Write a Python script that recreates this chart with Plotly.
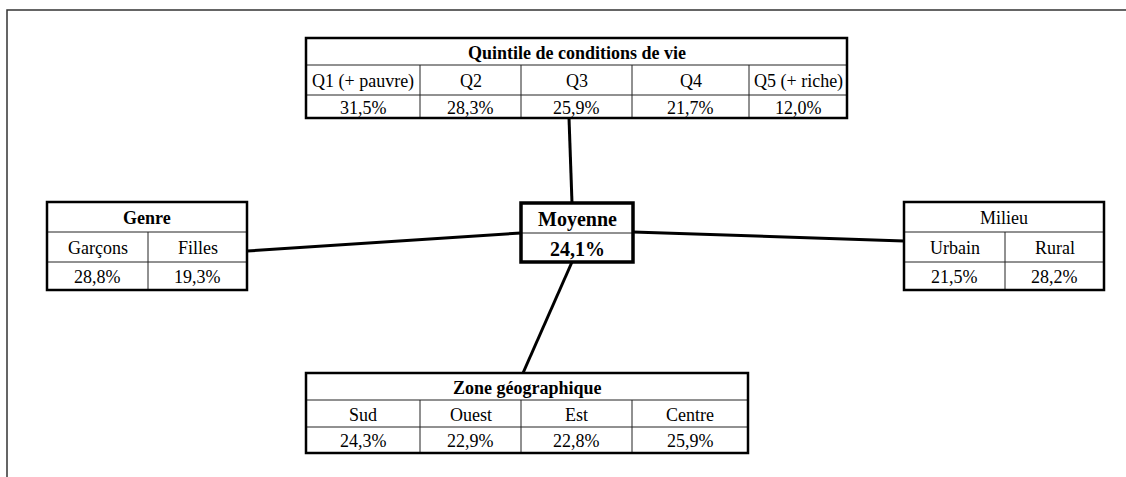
import plotly.graph_objects as go

# ---- data ----
quintile_title = "Quintile de conditions de vie"
quintile_labels = ["Q1 (+ pauvre)", "Q2", "Q3", "Q4", "Q5 (+ riche)"]
quintile_values = [31.5, 28.3, 25.9, 21.7, 12.0]

genre_title = "Genre"
genre_labels = ["Garçons", "Filles"]
genre_values = [28.8, 19.3]

milieu_title = "Milieu"
milieu_labels = ["Urbain", "Rural"]
milieu_values = [21.5, 28.2]

zone_title = "Zone géographique"
zone_labels = ["Sud", "Ouest", "Est", "Centre"]
zone_values = [24.3, 22.9, 22.8, 25.9]

moyenne_title = "Moyenne"
moyenne_value = 24.1


def fmt(v):
    return f"{v:.1f}".replace(".", ",") + "%"


W, H = 1126, 477
FONT = "Liberation Serif"
FS = 18
shapes = []
annots = []


def line(x0, y0, x1, y1, w, c="black"):
    shapes.append(dict(type="line", xref="x", yref="y", x0=x0, y0=y0, x1=x1, y1=y1,
                       line=dict(color=c, width=w)))


def text(x, y, s, size=FS, bold=False):
    annots.append(dict(x=x, y=y, xref="x", yref="y", text=f"<b>{s}</b>" if bold else s,
                       showarrow=False, xanchor="center", yanchor="middle",
                       font=dict(family=FONT, size=size, color="black")))


def table(cols, rows, title, labels, values, title_bold=True):
    x0, x1 = cols[0], cols[-1]
    shapes.append(dict(type="rect", xref="x", yref="y", x0=x0, y0=rows[0], x1=x1, y1=rows[-1],
                       fillcolor="white", line=dict(width=0)))
    for r in rows[1:-1]:
        line(x0, r, x1, r, 1, "#222")
    for c in cols[1:-1]:
        line(c, rows[1], c, rows[-1], 1, "#222")
    shapes.append(dict(type="rect", xref="x", yref="y", x0=x0, y0=rows[0], x1=x1, y1=rows[-1],
                       line=dict(color="black", width=2.5)))
    text((x0 + x1) / 2, (rows[0] + rows[1]) / 2 + 1, title, FS, title_bold)
    for i, (lab, v) in enumerate(zip(labels, values)):
        cx = (cols[i] + cols[i + 1]) / 2
        text(cx, (rows[1] + rows[2]) / 2 + 1, lab, FS)
        text(cx, (rows[2] + rows[3]) / 2 + 1, fmt(v), FS)


# outer frame
shapes.append(dict(type="path", xref="x", yref="y", path=f"M 7 {H} L 7 10 L {W} 10",
                   line=dict(color="#333", width=1.5)))

# connectors
line(569, 118, 572, 203, 3)
line(247, 251, 521, 233, 3)
line(633, 232, 904, 241, 3)
line(572, 262, 523, 373, 3)

table([306, 420, 521, 632, 749, 847], [38, 65, 95, 118],
      quintile_title, quintile_labels, quintile_values)
table([47, 148, 247], [202, 232, 262, 290], genre_title, genre_labels, genre_values)
table([904, 1005, 1104], [202, 232, 262, 290], milieu_title, milieu_labels, milieu_values,
      title_bold=False)
table([306, 420, 521, 632, 748], [373, 400, 427, 453], zone_title, zone_labels, zone_values)

# moyenne box
mx0, mx1, my0, my1, my2 = 521, 633, 203, 233, 262
shapes.append(dict(type="rect", xref="x", yref="y", x0=mx0, y0=my0, x1=mx1, y1=my2,
                   fillcolor="white", line=dict(width=0)))
line(mx0, my1, mx1, my1, 1, "#222")
shapes.append(dict(type="rect", xref="x", yref="y", x0=mx0, y0=my0, x1=mx1, y1=my2,
                   line=dict(color="black", width=3.5)))
text((mx0 + mx1) / 2, (my0 + my1) / 2 + 1, moyenne_title, 20, True)
text((mx0 + mx1) / 2, (my1 + my2) / 2 + 1, fmt(moyenne_value), 20, True)

fig = go.Figure()
fig.update_layout(
    width=W, height=H, margin=dict(l=0, r=0, t=0, b=0),
    paper_bgcolor="white", plot_bgcolor="white",
    xaxis=dict(range=[0, W], visible=False, fixedrange=True),
    yaxis=dict(range=[H, 0], visible=False, fixedrange=True),
    shapes=shapes, annotations=annots, showlegend=False,
)
fig.write_html("out.html", config={"displayModeBar": False})

with open("out.html", encoding="utf-8") as f:
    html = f.read()
html = html.replace("<head>", "<head><style>html,body{margin:0;padding:0;overflow:hidden}</style>", 1)
with open("out.html", "w", encoding="utf-8") as f:
    f.write(html)
